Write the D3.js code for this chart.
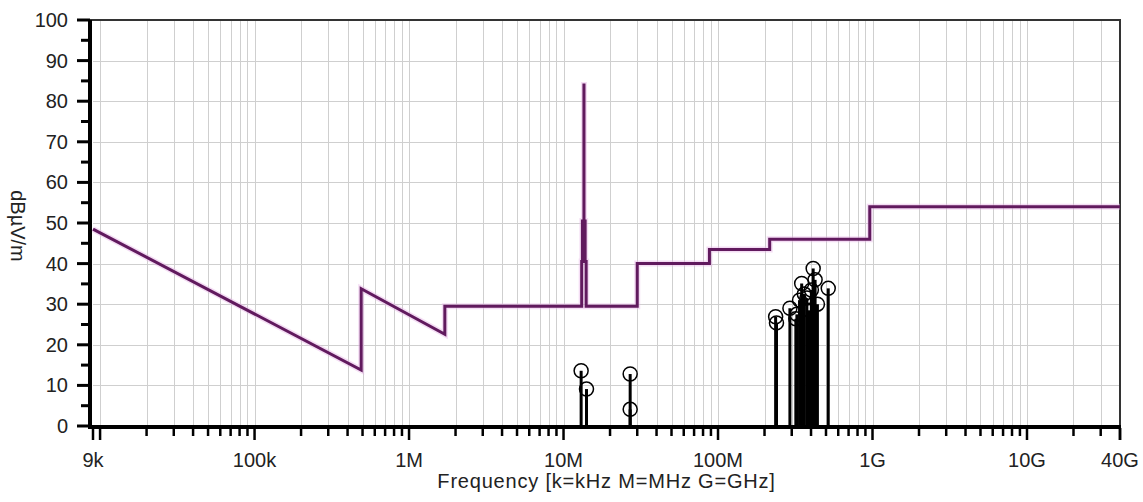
<!DOCTYPE html>
<html>
<head>
<meta charset="utf-8">
<script src="https://d3js.org/d3.v7.min.js"></script>
<style>
  body { margin: 0; background: #fff; }
  text { font-family: "Liberation Sans", Arial, sans-serif; fill: #222; }
</style>
</head>
<body>
<div id="chart"></div>
<script>
// --- data ---
// limit line (frequency in Hz, level in dBuV/m)
var limitFreqs  = [9e3, 490e3, 490e3, 1.705e6, 1.705e6, 13.11e6, 13.11e6, 13.25e6, 13.25e6, 13.553e6, 13.553e6,
                   13.567e6, 13.567e6, 13.8e6, 13.8e6, 14.01e6, 14.01e6, 30e6, 30e6, 88e6, 88e6, 216e6, 216e6,
                   960e6, 960e6, 40e9];
var limitLevels = [48.5, 13.8, 33.8, 22.6, 29.5, 29.5, 40.5, 40.5, 50.5, 50.5, 84,
                   84, 50.5, 50.5, 40.5, 40.5, 29.5, 29.5, 40, 40, 43.5, 43.5, 46,
                   46, 54, 54];

// measured peaks
var peakFreqs  = [13.0e6, 14.08e6, 27.0e6, 27.0e6, 236e6, 239e6, 292e6, 319e6, 324e6, 337e6, 348e6,
                  362e6, 376e6, 390e6, 402e6, 413e6, 425e6, 440e6, 517e6];
var peakLevels = [13.6, 9.1, 12.8, 4.1, 26.9, 25.4, 29.0, 26.4, 27.5, 31, 35.1,
                  32.5, 31.5, 28.5, 33.5, 38.8, 36, 30, 33.9];

var xTickValues = [9e3, 1e5, 1e6, 1e7, 1e8, 1e9, 1e10, 40e9];
var xTickLabels = ["9k", "100k", "1M", "10M", "100M", "1G", "10G", "40G"];
var yTickValues = [0, 10, 20, 30, 40, 50, 60, 70, 80, 90, 100];

var width = 1143, height = 502;
var pLeft = 93, pRight = 1120, pTop = 20, pBottom = 426;

var svg = d3.select("#chart").append("svg")
    .attr("width", width)
    .attr("height", height);

var x = d3.scaleLog().domain([9e3, 40e9]).range([pLeft, pRight]);
var y = d3.scaleLinear().domain([0, 100]).range([pBottom, pTop]);

// minor positions: k * 10^n between 9k and 40G
var minor = [];
for (var e = 3; e <= 10; e++) {
  for (var k = 1; k <= 9; k++) {
    var f = k * Math.pow(10, e);
    if (f >= 9e3 && f <= 40e9) minor.push(f);
  }
}

// grid
var grid = svg.append("g");
grid.selectAll("line.v")
  .data(minor.filter(function(d) { return d > 9e3; }))
  .enter().append("line")
  .attr("x1", function(d) { return Math.round(x(d)) + 0.5; })
  .attr("x2", function(d) { return Math.round(x(d)) + 0.5; })
  .attr("y1", pTop).attr("y2", pBottom)
  .attr("stroke", "#cfcfcf").attr("stroke-width", 1);

grid.selectAll("line.h")
  .data(yTickValues.slice(1, -1))
  .enter().append("line")
  .attr("x1", pLeft).attr("x2", pRight)
  .attr("y1", function(d) { return Math.round(y(d)) + 0.5; })
  .attr("y2", function(d) { return Math.round(y(d)) + 0.5; })
  .attr("stroke", "#cfcfcf").attr("stroke-width", 1);

// top and right frame
svg.append("path")
  .attr("d", "M" + (pLeft - 3) + "," + pTop + "H" + pRight + "V" + pBottom)
  .attr("fill", "none").attr("stroke", "#333").attr("stroke-width", 2);

// limit line
var lim = limitFreqs.map(function(f, i) { return [f, limitLevels[i]]; });
var limLine = d3.line()
  .x(function(d) { return x(d[0]); })
  .y(function(d) { return y(d[1]); });

svg.append("path").datum(lim)
  .attr("d", limLine)
  .attr("fill", "none").attr("stroke", "#e6b3e6").attr("stroke-opacity", 0.45)
  .attr("stroke-width", 6).attr("stroke-linejoin", "miter");
svg.append("path").datum(lim)
  .attr("d", limLine)
  .attr("fill", "none").attr("stroke", "#611a5e")
  .attr("stroke-width", 3).attr("stroke-linejoin", "miter");

// peaks: stems with open circles
var peaks = peakFreqs.map(function(f, i) { return { f: f, v: peakLevels[i] }; });
svg.append("g").selectAll("line")
  .data(peaks).enter().append("line")
  .attr("x1", function(d) { return x(d.f); })
  .attr("x2", function(d) { return x(d.f); })
  .attr("y1", pBottom)
  .attr("y2", function(d) { return y(d.v); })
  .attr("stroke", "#000").attr("stroke-width", 3);

svg.append("g").selectAll("circle")
  .data(peaks).enter().append("circle")
  .attr("cx", function(d) { return x(d.f); })
  .attr("cy", function(d) { return y(d.v); })
  .attr("r", 7)
  .attr("fill", "none").attr("stroke", "#000").attr("stroke-width", 1.5);

// axes lines
svg.append("line")
  .attr("x1", pLeft - 3).attr("x2", pLeft - 3)
  .attr("y1", pTop).attr("y2", pBottom + 3)
  .attr("stroke", "#000").attr("stroke-width", 4);
svg.append("line")
  .attr("x1", pLeft - 5).attr("x2", pRight + 1)
  .attr("y1", pBottom + 1).attr("y2", pBottom + 1)
  .attr("stroke", "#000").attr("stroke-width", 4);

// x ticks
svg.append("g").selectAll("line")
  .data(minor).enter().append("line")
  .attr("x1", function(d) { return x(d); })
  .attr("x2", function(d) { return x(d); })
  .attr("y1", pBottom + 2)
  .attr("y2", function(d) { return xTickValues.indexOf(d) >= 0 || d === 1e4 ? pBottom + 14 : pBottom + 10; })
  .attr("stroke", "#000").attr("stroke-width", 2.5);
svg.append("line")
  .attr("x1", x(40e9)).attr("x2", x(40e9))
  .attr("y1", pBottom + 2).attr("y2", pBottom + 14)
  .attr("stroke", "#000").attr("stroke-width", 2.5);

svg.append("g").selectAll("text")
  .data(xTickValues).enter().append("text")
  .attr("x", function(d) { return x(d); })
  .attr("y", 467)
  .attr("text-anchor", "middle")
  .style("font-size", "20px")
  .text(function(d, i) { return xTickLabels[i]; });

// y ticks
var yMinor = d3.range(0, 101, 5);
svg.append("g").selectAll("line")
  .data(yMinor).enter().append("line")
  .attr("x1", function(d) { return d % 10 === 0 ? pLeft - 16 : pLeft - 12; })
  .attr("x2", pLeft - 3)
  .attr("y1", function(d) { return y(d); })
  .attr("y2", function(d) { return y(d); })
  .attr("stroke", "#000").attr("stroke-width", 3);

svg.append("g").selectAll("text")
  .data(yTickValues).enter().append("text")
  .attr("x", 68)
  .attr("y", function(d) { return y(d) + 7; })
  .attr("text-anchor", "end")
  .style("font-size", "20px")
  .text(function(d) { return d; });

// axis titles
svg.append("text")
  .attr("x", (pLeft + pRight) / 2)
  .attr("y", 488)
  .attr("text-anchor", "middle")
  .style("font-size", "20px")
  .style("letter-spacing", "0.8px")
  .text("Frequency [k=kHz M=MHz G=GHz]");

svg.append("text")
  .attr("transform", "translate(11,226) rotate(90)")
  .attr("text-anchor", "middle")
  .style("font-size", "20px")
  .text("dBµV/m");
</script>
</body>
</html>
